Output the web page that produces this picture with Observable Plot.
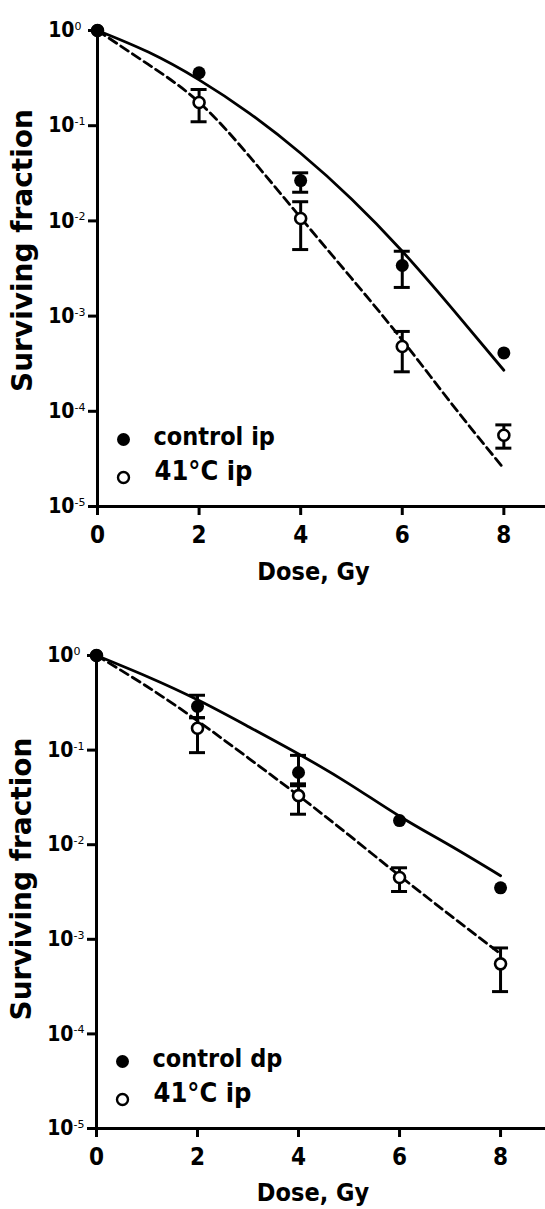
<!DOCTYPE html>
<html><head><meta charset="utf-8">
<script src="https://cdn.jsdelivr.net/npm/d3@7"></script>
<script src="https://cdn.jsdelivr.net/npm/@observablehq/plot@0.6"></script>
<style>
body{margin:0;background:#fff;}
#chart{width:545px;}
#chart svg{display:block;}
</style></head><body><div id="chart"></div>
<script>
// ---- shared ----
const doses = [0, 2, 4, 6, 8];
const fitDoses = [0, 1, 2, 3, 4, 5, 6, 7, 8];
const xTicks = [0, 2, 4, 6, 8];
const yTicks = [1, 1e-1, 1e-2, 1e-3, 1e-4, 1e-5];
const yExponents = ["0", "-1", "-2", "-3", "-4", "-5"];
const xLabel = "Dose, Gy";
const yLabel = "Surviving fraction";

// ---- panel A (control ip vs 41°C ip) ----
const aControlName = "control ip";
const aHeatName = "41°C ip";
const aControl   = [1, 0.36, 0.0265, 0.0034, 0.00041];
const aControlHi = [null, null, 0.032, 0.0048, null];
const aControlLo = [null, null, 0.020, 0.0020, null];
const aHeat      = [1, 0.175, 0.0106, 0.00048, 0.000056];
const aHeatHi    = [null, 0.24, 0.0159, 0.00069, 0.000072];
const aHeatLo    = [null, 0.11, 0.0050, 0.00026, 0.000041];
const aControlFit = [1, 0.593, 0.303, 0.134, 0.0513, 0.0170, 0.0048, 0.00117, 0.00027];
const aHeatFit    = [1, 0.44, 0.176, 0.047, 0.0108, 0.0025, 0.00056, 0.000115, 0.000025];

// ---- panel B (control dp vs 41°C ip) ----
const bControlName = "control dp";
const bHeatName = "41°C ip";
const bControl   = [1, 0.29, 0.058, 0.018, 0.0035];
const bControlHi = [null, 0.38, 0.088, null, null];
const bControlLo = [null, 0.22, 0.044, null, null];
const bHeat      = [1, 0.17, 0.033, 0.0045, 0.00055];
const bHeatHi    = [null, 0.22, 0.042, 0.0057, 0.00081];
const bHeatLo    = [null, 0.094, 0.021, 0.0032, 0.00028];
const bControlFit = [1, 0.60, 0.34, 0.178, 0.091, 0.044, 0.020, 0.0098, 0.0047];
const bHeatFit    = [1, 0.47, 0.204, 0.083, 0.033, 0.0126, 0.0047, 0.0018, 0.0007];

const FONT = "DejaVu Sans";
const FONTC = "'DejaVu Sans Condensed', 'DejaVu Sans'";

function pts(vals) { return doses.map((d, i) => ({d, s: vals[i]})); }
function fit(vals) { return fitDoses.map((d, i) => ({d, s: vals[i]})); }
function errs(hi, lo) {
  return doses.map((d, i) => ({d, hi: hi[i], lo: lo[i]})).filter(e => e.hi != null);
}

function panel(o) {
  const ce = errs(o.controlHi, o.controlLo);
  const he = errs(o.heatHi, o.heatLo);
  const allE = ce.concat(he);
  return Plot.plot({
    width: 545,
    height: o.height,
    marginLeft: o.marginLeft,
    marginRight: 0,
    marginTop: o.marginTop,
    marginBottom: o.marginBottom,
    style: {fontFamily: FONT, background: "white"},
    x: {domain: [0, o.xMax]},
    y: {type: "log", domain: [1e-5, 1]},
    marks: [
      // axis lines
      Plot.ruleX([0], {x: d => d, y1: 1e-5, y2: 1, strokeWidth: 3, stroke: "black"}),
      Plot.ruleY([1e-5], {y: d => d, strokeWidth: 3, stroke: "black"}),
      Plot.axisY({ticks: yTicks, tickSize: 9, strokeWidth: 3, tickFormat: () => "", label: null}),
      Plot.axisX({ticks: xTicks, tickSize: 9, strokeWidth: 3, tickPadding: 10, label: null,
        fontSize: 24, fontWeight: "bold", fontFamily: FONTC}),
      // y tick labels 10^n
      Plot.text(yTicks, {y: d => d, frameAnchor: "left", text: () => "10", textAnchor: "end",
        dx: -23, fontSize: 21, fontWeight: "bold", fontFamily: FONTC}),
      Plot.text(yTicks, {y: d => d, frameAnchor: "left", text: (d, i) => yExponents[i], textAnchor: "start",
        dx: -23, dy: -4, fontSize: 11, fontFamily: FONT}),
      // fitted curves
      Plot.line(fit(o.heatFit), {x: "d", y: "s", stroke: "black", strokeWidth: 2.8, strokeDasharray: "9,5", curve: "natural"}),
      Plot.line(fit(o.controlFit), {x: "d", y: "s", stroke: "black", strokeWidth: 2.8, curve: "natural"}),
      // error bars
      Plot.ruleX(allE, {x: "d", y1: "lo", y2: "hi", strokeWidth: 3, stroke: "black"}),
      Plot.ruleY(allE, {y: "hi", x1: "d", x2: "d", insetLeft: -8, insetRight: -8, strokeWidth: 3, stroke: "black"}),
      Plot.ruleY(allE, {y: "lo", x1: "d", x2: "d", insetLeft: -8, insetRight: -8, strokeWidth: 3, stroke: "black"}),
      // data points
      Plot.dot(pts(o.heat), {x: "d", y: "s", r: 5.5, fill: "white", stroke: "black", strokeWidth: 2.6}),
      Plot.dot(pts(o.control), {x: "d", y: "s", r: 6.5, fill: "black"}),
      // legend
      Plot.dot([o.controlName], {frameAnchor: "bottom-left", dx: 26, dy: -67, r: 6.5, fill: "black"}),
      Plot.dot([o.heatName], {frameAnchor: "bottom-left", dx: 26, dy: -29, r: 5.5, fill: "white", stroke: "black", strokeWidth: 2.4}),
      Plot.text([o.controlName], {frameAnchor: "bottom-left", text: d => d, textAnchor: "start", dx: 56, dy: -62,
        fontSize: 25, fontWeight: "bold", fontFamily: FONTC}),
      Plot.text([o.heatName], {frameAnchor: "bottom-left", text: d => d, textAnchor: "start", dx: 57, dy: -27,
        fontSize: 27, fontWeight: "bold", fontFamily: FONTC}),
      // axis titles
      Plot.text([xLabel], {frameAnchor: "bottom", text: d => d, textAnchor: "middle", dx: -8, dy: o.xLabelDy,
        fontSize: 25, fontWeight: "bold", fontFamily: FONTC}),
      Plot.text([yLabel], {frameAnchor: "left", text: d => d, textAnchor: "middle", rotate: -90, dx: -74, dy: o.yLabelDy,
        fontSize: 28, fontWeight: "bold", fontFamily: FONT})
    ]
  });
}

const chart = document.getElementById("chart");
chart.appendChild(panel({
  height: 600, marginLeft: 97, marginTop: 30, marginBottom: 94, xMax: 8.82,
  xLabelDy: 73, yLabelDy: -18,
  control: aControl, controlHi: aControlHi, controlLo: aControlLo,
  heat: aHeat, heatHi: aHeatHi, heatLo: aHeatLo,
  controlFit: aControlFit, heatFit: aHeatFit,
  controlName: aControlName, heatName: aHeatName
}));
chart.appendChild(panel({
  height: 609, marginLeft: 96, marginTop: 55, marginBottom: 81, xMax: 8.89,
  xLabelDy: 72, yLabelDy: -13,
  control: bControl, controlHi: bControlHi, controlLo: bControlLo,
  heat: bHeat, heatHi: bHeatHi, heatLo: bHeatLo,
  controlFit: bControlFit, heatFit: bHeatFit,
  controlName: bControlName, heatName: bHeatName
}));
</script></body></html>
